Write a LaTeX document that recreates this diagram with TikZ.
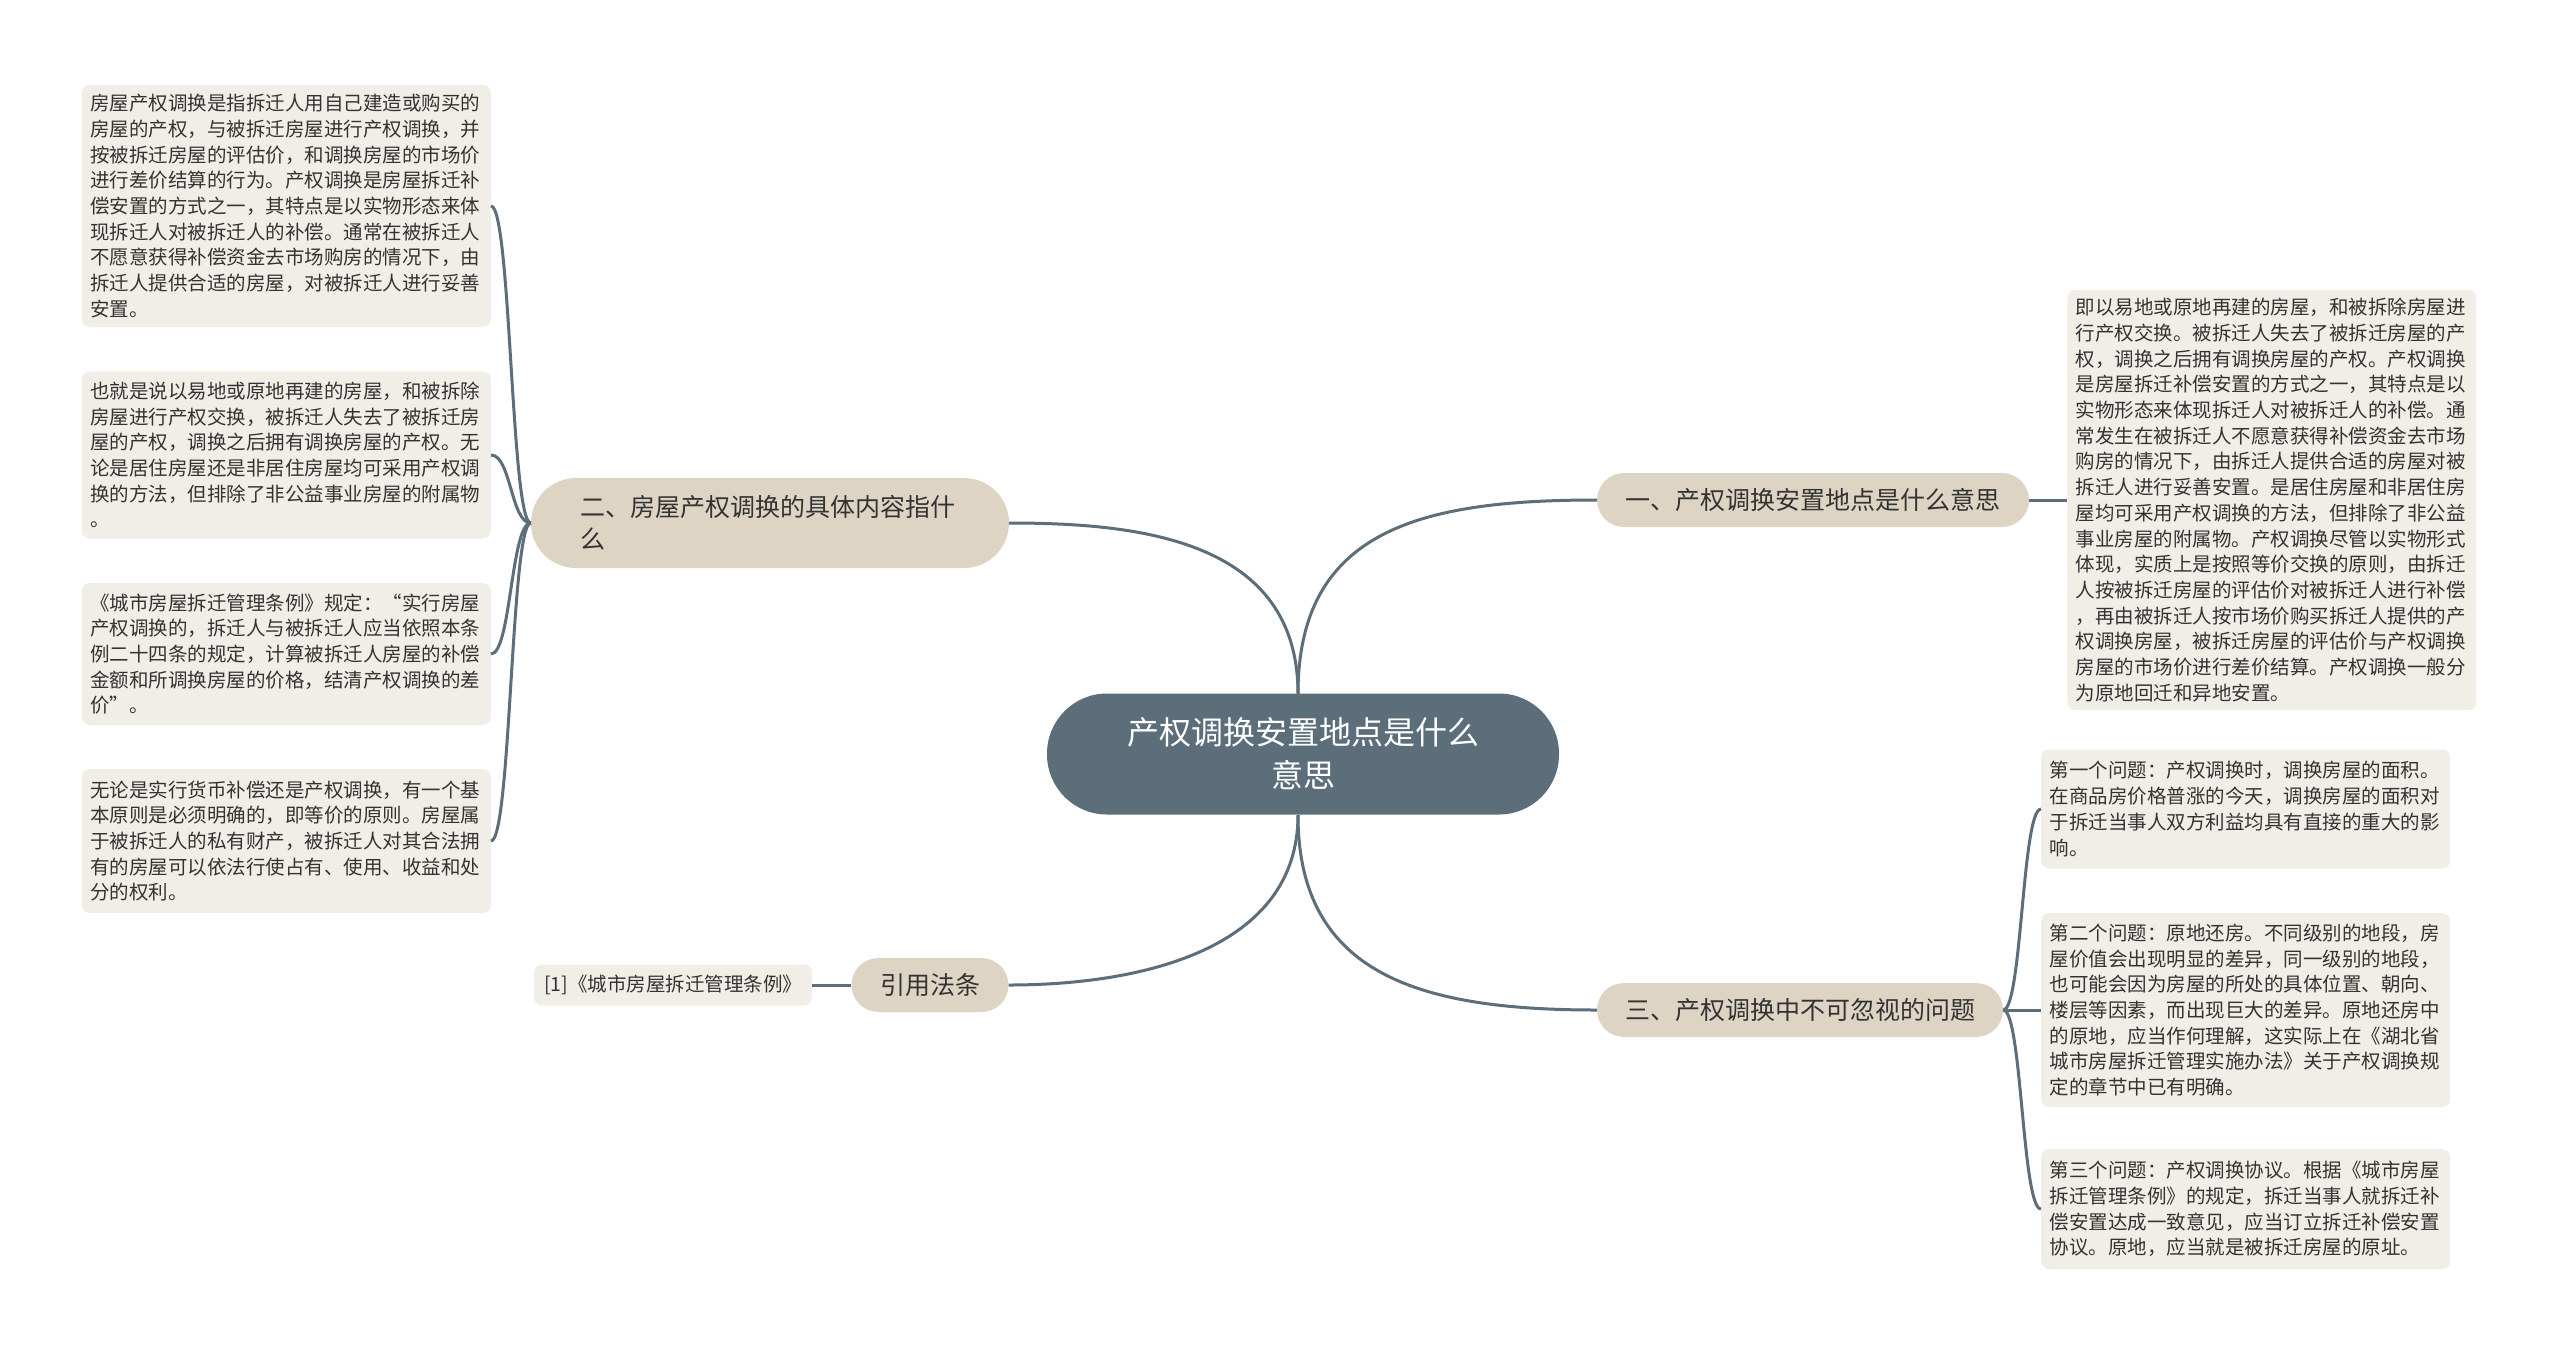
\documentclass[tikz,border=0pt]{standalone}
\usepackage{fontspec}
\setmainfont{Noto Sans CJK SC}
\usetikzlibrary{positioning}
\definecolor{rootfill}{RGB}{91,110,122}
\definecolor{branchfill}{RGB}{222,212,196}
\definecolor{leaffill}{RGB}{241,238,231}
\definecolor{linkcol}{RGB}{91,110,122}
\definecolor{textcol}{RGB}{51,51,51}
\tikzstyle{root} = [fill=rootfill, rounded corners=60pt, minimum width=512pt,
    minimum height=121pt, text=white, align=center, font=\fontsize{32}{43}\selectfont]
\tikzstyle{branch} = [fill=branchfill, rounded corners=27pt, minimum height=54pt,
    text=textcol, font=\fontsize{25}{32}\selectfont]
\tikzstyle{leaf} = [fill=leaffill, rounded corners=8pt, text width=392pt, inner xsep=8.5pt,
    inner ysep=8pt, align=left, text=textcol, font=\fontsize{19.5}{25.7}\selectfont]
\tikzstyle{link} = [draw=linkcol, line width=3pt]

\begin{document}
\begin{tikzpicture}[x=1pt, y=-1pt, node distance=38pt]
    \useasboundingbox [fill=white] (0,0) rectangle (2560,1353);
    \node [root] (root) at (1303,754) {产权调换安置地点是什么\\意思};
    \node [branch, minimum width=432pt] (one) at (1813,500) {一、产权调换安置地点是什么意思};
    \node [branch, minimum width=478pt, minimum height=90pt, rounded corners=45pt,
            text width=380pt, align=left] (two) at (770,523) {二、房屋产权调换的具体内容指什\\么};
    \node [branch, minimum width=157pt] (cite) at (930,985) {引用法条};
    \node [branch, minimum width=406pt] (three) at (1800,1010) {三、产权调换中不可忽视的问题};
    % left leaves
    \node [leaf, anchor=east, minimum height=242pt] (def) at (491,206) {房屋产权调换是指拆迁人用自己建造或购买的\\房屋的产权，与被拆迁房屋进行产权调换，并\\按被拆迁房屋的评估价，和调换房屋的市场价\\进行差价结算的行为。产权调换是房屋拆迁补\\偿安置的方式之一，其特点是以实物形态来体\\现拆迁人对被拆迁人的补偿。通常在被拆迁人\\不愿意获得补偿资金去市场购房的情况下，由\\拆迁人提供合适的房屋，对被拆迁人进行妥善\\安置。};
    \node [leaf, anchor=east, minimum height=167pt] (swap) at (491,455) {也就是说以易地或原地再建的房屋，和被拆除\\房屋进行产权交换，被拆迁人失去了被拆迁房\\屋的产权，调换之后拥有调换房屋的产权。无\\论是居住房屋还是非居住房屋均可采用产权调\\换的方法，但排除了非公益事业房屋的附属物\\。};
    \node [leaf, anchor=east, minimum height=142pt] (rule) at (491,654) {《城市房屋拆迁管理条例》规定：“实行房屋\\产权调换的，拆迁人与被拆迁人应当依照本条\\例二十四条的规定，计算被拆迁人房屋的补偿\\金额和所调换房屋的价格，结清产权调换的差\\价”。};
    \node [leaf, anchor=east, minimum height=144pt] (equal) at (491,841) {无论是实行货币补偿还是产权调换，有一个基\\本原则是必须明确的，即等价的原则。房屋属\\于被拆迁人的私有财产，被拆迁人对其合法拥\\有的房屋可以依法行使占有、使用、收益和处\\分的权利。};
    \node [leaf, text width=, minimum width=274pt, minimum height=41pt, inner xsep=10pt,
            left=39pt of cite] (law) {[1]《城市房屋拆迁管理条例》};
    % right leaves
    \node [leaf, minimum height=416pt, right=38pt of one] (mean) {即以易地或原地再建的房屋，和被拆除房屋进\\行产权交换。被拆迁人失去了被拆迁房屋的产\\权，调换之后拥有调换房屋的产权。产权调换\\是房屋拆迁补偿安置的方式之一，其特点是以\\实物形态来体现拆迁人对被拆迁人的补偿。通\\常发生在被拆迁人不愿意获得补偿资金去市场\\购房的情况下，由拆迁人提供合适的房屋对被\\拆迁人进行妥善安置。是居住房屋和非居住房\\屋均可采用产权调换的方法，但排除了非公益\\事业房屋的附属物。产权调换尽管以实物形式\\体现，实质上是按照等价交换的原则，由拆迁\\人按被拆迁房屋的评估价对被拆迁人进行补偿\\，再由被拆迁人按市场价购买拆迁人提供的产\\权调换房屋，被拆迁房屋的评估价与产权调换\\房屋的市场价进行差价结算。产权调换一般分\\为原地回迁和异地安置。};
    \node [leaf, anchor=west, minimum height=119pt] (qa) at (2041,809) {第一个问题：产权调换时，调换房屋的面积。\\在商品房价格普涨的今天，调换房屋的面积对\\于拆迁当事人双方利益均具有直接的重大的影\\响。};
    \node [leaf, anchor=west, minimum height=194pt] (qb) at (2041,1010) {第二个问题：原地还房。不同级别的地段，房\\屋价值会出现明显的差异，同一级别的地段，\\也可能会因为房屋的所处的具体位置、朝向、\\楼层等因素，而出现巨大的差异。原地还房中\\的原地，应当作何理解，这实际上在《湖北省\\城市房屋拆迁管理实施办法》关于产权调换规\\定的章节中已有明确。};
    \node [leaf, anchor=west, minimum height=120pt] (qc) at (2041,1209) {第三个问题：产权调换协议。根据《城市房屋\\拆迁管理条例》的规定，拆迁当事人就拆迁补\\偿安置达成一致意见，应当订立拆迁补偿安置\\协议。原地，应当就是被拆迁房屋的原址。};
    % links from the root
    \draw [link] (1298,694) .. controls (1298,530) and (1420,500) .. (one.west);
    \draw [link] (1298,694) .. controls (1298,540) and (1140,523) .. (two.east);
    \draw [link] (1298,815) .. controls (1298,950) and (1140,985) .. (cite.east);
    \draw [link] (1298,815) .. controls (1298,975) and (1420,1010) .. (three.west);
    % links to the leaves
    \foreach \leafname in {def,swap,rule,equal}
        \draw [link] (two.west) .. controls (511,523) and (511,0 |- \leafname.east) .. (\leafname.east);
    \foreach \leafname in {qa,qb,qc}
        \draw [link] (three.east) .. controls (2022,1010) and (2022,0 |- \leafname.west) .. (\leafname.west);
    \draw [link] (one.east) -- (mean.west);
    \draw [link] (cite.west) -- (law.east);
\end{tikzpicture}
\end{document}
